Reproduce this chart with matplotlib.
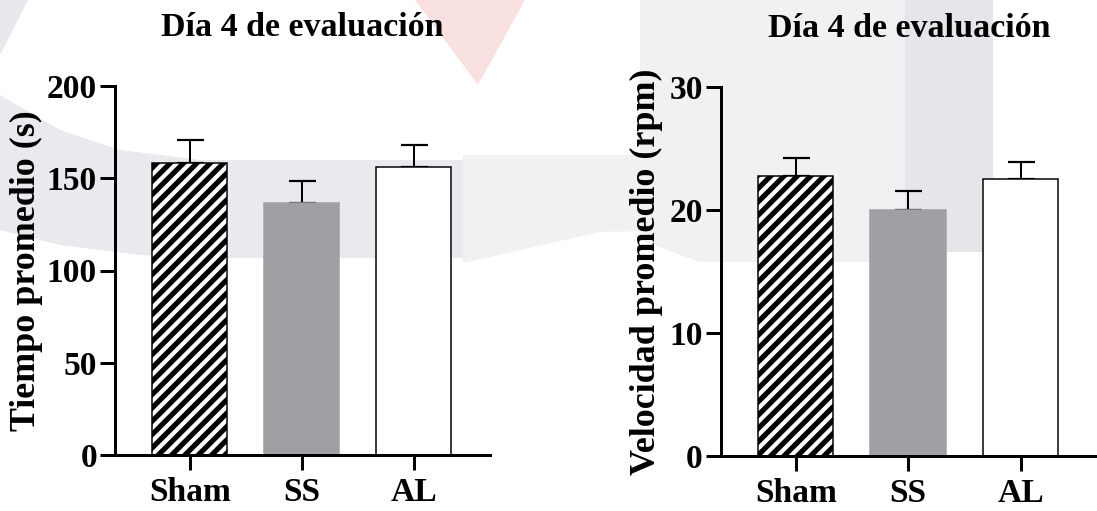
import matplotlib
matplotlib.use('Agg')
import matplotlib.pyplot as plt
from matplotlib.patches import Polygon

# ---------------- data ----------------
groups = ['Sham', 'SS', 'AL']
tiempo_mean = [158.4, 136.4, 156.3]
tiempo_sem = [12.2, 11.9, 11.7]
velocidad_mean = [22.75, 20.0, 22.5]
velocidad_sem = [1.45, 1.5, 1.4]
tiempo_ticks = [0, 50, 100, 150, 200]
velocidad_ticks = [0, 10, 20, 30]
titles = ['Día 4 de evaluación', 'Día 4 de evaluación']
ylabels = ['Tiempo promedio (s)', 'Velocidad promedio (rpm)']

# ---------------- style ----------------
DPI = 80
W, H = 1097, 511
PT = 72.0 / DPI  # points per pixel
plt.rcParams['font.family'] = ['Liberation Serif', 'DejaVu Serif']
plt.rcParams['font.weight'] = 'bold'
plt.rcParams['hatch.color'] = 'black'
plt.rcParams['hatch.linewidth'] = 5.2 * PT

fig = plt.figure(figsize=(W / DPI, H / DPI), dpi=DPI)
fig.patch.set_facecolor('white')

# faint background watermark (approximate)
def px_poly(pts, color):
    verts = [(x / W, 1 - y / H) for x, y in pts]
    p = Polygon(verts, closed=True, transform=fig.transFigure, facecolor=color,
                edgecolor='none', zorder=-10)
    fig.patches.append(p)

px_poly([(0, 0), (28, 0), (0, 55)], '#e8e8ed')
px_poly([(0, 95), (60, 130), (120, 150), (200, 160), (470, 160), (470, 258),
         (200, 258), (140, 255), (60, 245), (0, 230)], '#e9e9ee')
px_poly([(463, 155), (720, 155), (720, 230), (600, 232), (463, 263)], '#f1f1f4')
px_poly([(640, 0), (905, 0), (905, 262), (700, 262), (640, 240)], '#f1f1f4')
px_poly([(905, 0), (993, 0), (993, 252), (905, 252)], '#e5e5ea')
px_poly([(415, 0), (525, 0), (478, 85)], '#f9e1e1')

axes_px = [(115, 455, 375, 369), (720.7, 456, 376.3, 369.3)]
ylims = [(0, 200), (0, 30)]
ticks = [tiempo_ticks, velocidad_ticks]
means = [tiempo_mean, velocidad_mean]
sems = [tiempo_sem, velocidad_sem]
label_x = [(43 - 115) / 375, (663 - 720.7) / 376.3]

bar_w = 0.67
fills = ['white', '#a09fa4', 'white']
edges = ['black', '#a09fa4', 'black']
hatches = ['//', None, None]

for i in range(2):
    x0, yb, w, h = axes_px[i]
    ax = fig.add_axes([x0 / W, 1 - yb / H, w / W, h / H])
    ax.set_facecolor('none')
    xs = list(range(len(groups)))
    ax.errorbar(xs, means[i], yerr=[[0] * 3, sems[i]], fmt='none', ecolor='black',
                elinewidth=2 * PT, capsize=13.5 * PT, capthick=2.2 * PT, zorder=1)
    for j, x in enumerate(xs):
        ax.bar(x, means[i][j], width=bar_w, color=fills[j], edgecolor=edges[j],
               linewidth=1.5 * PT, hatch=hatches[j], zorder=2)
    ax.set_xlim(-0.667, 2.68)
    ax.set_ylim(*ylims[i])
    ax.set_yticks(ticks[i])
    ax.set_xticks(xs)
    ax.set_xticklabels(groups)
    for s in ['top', 'right']:
        ax.spines[s].set_visible(False)
    for s in ['left', 'bottom']:
        ax.spines[s].set_linewidth(3 * PT)
        ax.spines[s].set_zorder(3)
    ax.tick_params(axis='both', length=15 * PT, width=3 * PT, labelsize=33.5 * PT)
    ax.tick_params(axis='y', pad=3 * PT)
    ax.tick_params(axis='x', pad=7 * PT)
    for lab in ax.get_xticklabels() + ax.get_yticklabels():
        lab.set_fontweight('bold')
    ax.set_ylabel(ylabels[i], fontsize=36 * PT, fontweight='bold')
    ax.yaxis.set_label_coords(label_x[i], 0.5)
    ax.set_title(titles[i], fontsize=34 * PT, fontweight='bold', pad=50 * PT)

fig.savefig('out.png', dpi=DPI, facecolor='white')
